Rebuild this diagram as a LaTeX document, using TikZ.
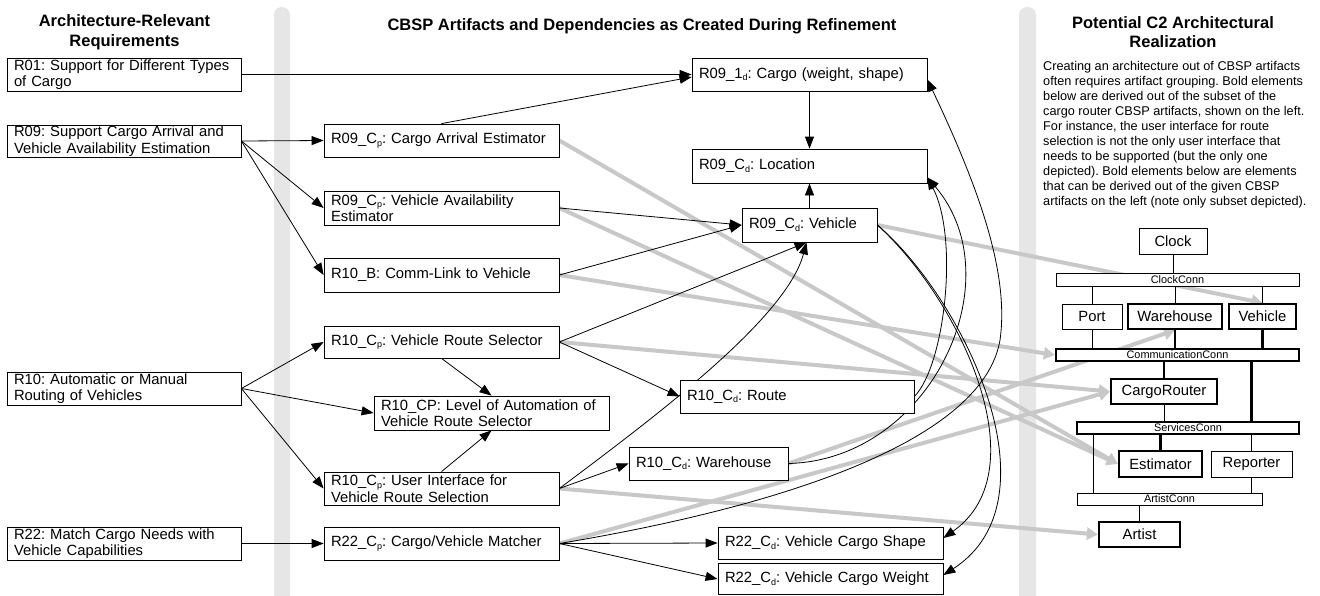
\documentclass[tikz,border=0pt]{standalone}
\usepackage{fontspec}
\setmainfont{Liberation Sans}
\usetikzlibrary{arrows.meta,calc}
\pgfdeclarelayer{bars}\pgfdeclarelayer{ctwo}\pgfdeclarelayer{grayl}\pgfdeclarelayer{blackl}
\pgfsetlayers{bars,grayl,ctwo,blackl,main}
\definecolor{barc}{HTML}{E6E6E6}
\definecolor{grayc}{HTML}{C8C8C8}
\newcommand\bfnt{\fontsize{14.8}{16.5}\selectfont}
\newcommand\sbx[1]{\raisebox{-2.5pt}{\fontsize{9}{9}\selectfont #1}}
\frenchspacing
\begin{document}
\begin{tikzpicture}[x=1pt,y=-1pt,
  bx/.style 2 args={draw, fill=white, line width=.8pt, inner xsep=7pt, inner ysep=0pt, align=left, font=\bfnt, text width=#1, minimum height=#2},
  cn/.style={draw, fill=white, line width=.8pt, inner sep=0pt, font=\bfnt},
  cnb/.style={cn, line width=2.2pt},
  cc/.style={draw, fill=white, line width=.8pt, inner sep=0pt, font=\fontsize{10.9}{11}\selectfont},
  ccb/.style={cc, line width=2.2pt},
  thinl/.style={line width=.8pt},
  thickl/.style={line width=2.2pt},
  ttl/.style={font=\fontsize{16.5}{20}\selectfont\bfseries, inner sep=0pt},
  bl/.style={draw, line width=.8pt, -{Triangle[length=12pt,width=9pt]}},
  gr/.style={draw=grayc, line width=4pt, -{Triangle[length=11pt,width=12pt]}, color=grayc}]
\useasboundingbox (0,0) rectangle (1320,595);
\begin{pgfonlayer}{bars}
\fill[white] (0,0) rectangle (1320,595);
\fill[barc, rounded corners=8pt] (274,7) rectangle (290,650);
\fill[barc, rounded corners=8pt] (1019,7) rectangle (1036,650);
\end{pgfonlayer}

% titles
\node[ttl, anchor=base] (t1a) at (124.5,26) {Architecture-Relevant};
\node[ttl, anchor=base] (t1b) at (124.5,46) {Requirements};
\node[ttl, anchor=base] (t2) at (642,30) {CBSP Artifacts and Dependencies as Created During Refinement};
\node[ttl, anchor=base] (t3a) at (1173,28) {Potential C2 Architectural};
\node[ttl, anchor=base] (t3b) at (1173,47) {Realization};
\node[anchor=north west, inner sep=0pt, align=left, font=\fontsize{12.7}{14.9}\selectfont] (para) at (1043,61.5)
{Creating an architecture out of CBSP artifacts\\often requires artifact grouping. Bold elements\\below are derived out of the subset of the\\cargo router CBSP artifacts, shown on the left.\\For instance, the user interface for route\\selection is not the only user interface that\\needs to be supported (but the only one\\depicted). Bold elements below are elements\\that can be derived out of the given CBSP\\artifacts on the left (note only subset depicted).};

% CBSP boxes
\node[bx={220pt}{33pt}] (r01) at (124,74.5) {R01: Support for Different Types\\of Cargo};
\node[bx={220pt}{32pt}] (r09) at (124,141) {R09: Support Cargo Arrival and\\Vehicle Availability Estimation};
\node[bx={220pt}{33pt}] (r10) at (124,388.5) {R10: Automatic or Manual\\Routing of Vehicles};
\node[bx={220pt}{33pt}] (r22) at (124,543.5) {R22: Match Cargo Needs with\\Vehicle Capabilities};
\node[bx={221pt}{33pt}] (cae) at (441.5,140.5) {R09\_C\sbx{p}: Cargo Arrival Estimator};
\node[bx={221pt}{34pt}] (vae) at (441.5,208) {R09\_C\sbx{p}: Vehicle Availability\\Estimator};
\node[bx={221pt}{34pt}] (rb) at (441.5,275) {R10\_B: Comm-Link to Vehicle};
\node[bx={221pt}{32pt}] (rs) at (441.5,342) {R10\_C\sbx{p}: Vehicle Route Selector};
\node[bx={221pt}{34pt}] (cp) at (491.5,413) {R10\_CP: Level of Automation of\\Vehicle Route Selector};
\node[bx={221pt}{33pt}] (ui) at (441.5,488.5) {R10\_C\sbx{p}: User Interface for\\Vehicle Route Selection};
\node[bx={221pt}{33pt}] (mt) at (441.5,543.5) {R22\_C\sbx{p}: Cargo/Vehicle Matcher};
\node[bx={221pt}{33pt}] (cg) at (809.5,74.5) {R09\_1\sbx{d}: Cargo (weight, shape)};
\node[bx={221pt}{34pt}] (loc) at (809.5,166) {R09\_C\sbx{d}: Location};
\node[bx={121pt}{34pt}] (veh) at (809.5,225) {R09\_C\sbx{d}: Vehicle};
\node[bx={220pt}{33pt}] (rt) at (797,396.5) {R10\_C\sbx{d}: Route};
\node[bx={145pt}{33pt}] (wh) at (708.5,463.5) {R10\_C\sbx{d}: Warehouse};
\node[bx={211pt}{32pt}] (sh) at (830.5,543) {R22\_C\sbx{d}: Vehicle Cargo Shape};
\node[bx={211pt}{31pt}] (wt) at (830.5,579) {R22\_C\sbx{d}: Vehicle Cargo Weight};

% C2 architecture
\begin{pgfonlayer}{ctwo}
\node[cn, minimum width=68pt, minimum height=26pt] (clock) at (1173,241) {Clock};
\node[cc, minimum width=243pt, minimum height=13pt] (clockconn) at (1177.5,279.5) {ClockConn};
\node[cn, minimum width=60pt, minimum height=25pt] (port) at (1092,316.5) {Port};
\node[cnb, minimum width=94pt, minimum height=25pt] (cwh) at (1175,316.5) {Warehouse};
\node[cnb, minimum width=67pt, minimum height=25pt] (cveh) at (1262.5,316.5) {Vehicle};
\node[ccb, minimum width=243pt, minimum height=12pt] (commconn) at (1177.5,355) {CommunicationConn};
\node[cnb, minimum width=106pt, minimum height=25pt] (crouter) at (1164,391.5) {CargoRouter};
\node[ccb, minimum width=222pt, minimum height=12pt] (servconn) at (1188,428) {ServicesConn};
\node[cnb, minimum width=83pt, minimum height=26pt] (est) at (1160.5,464) {Estimator};
\node[cn, minimum width=81pt, minimum height=26pt] (rep) at (1251.5,464) {Reporter};
\node[cc, minimum width=185pt, minimum height=12pt] (artconn) at (1169.5,499) {ArtistConn};
\node[cnb, minimum width=81pt, minimum height=25pt] (artist) at (1139.5,534.5) {Artist};
\draw[thinl] (clock.south) -- (clock.south |- clockconn.north);
\draw[thinl] (port.north) -- (port.north |- clockconn.south);
\draw[thinl] (cwh.north) -- (cwh.north |- clockconn.south);
\draw[thinl] (cveh.north) -- (cveh.north |- clockconn.south);
\draw[thinl] (port.south) -- (port.south |- commconn.north);
\draw[thickl] (cwh.south) -- (cwh.south |- commconn.north);
\draw[thickl] (cveh.south) -- (cveh.south |- commconn.north);
\draw[thickl] (crouter.north |- commconn.south) -- (crouter.north);
\draw[thickl] (rep.north |- commconn.south) -- (rep.north |- servconn.north);
\draw[thinl] (crouter.south) -- (crouter.south |- servconn.north);
\draw[thickl] (est.north |- servconn.south) -- (est.north);
\draw[thinl] (rep.north |- servconn.south) -- (rep.north);
\coordinate (sa) at ($(servconn.south west)+(17,0)$);
\draw[thinl] (sa) -- (sa |- artconn.north);
\draw[thinl] (rep.south) -- (rep.south |- artconn.north);
\draw[thinl] (artist.north |- artconn.south) -- (artist.north);
\end{pgfonlayer}

% gray realization links
\begin{pgfonlayer}{grayl}
\draw[gr] (veh.east) -- (cveh.north);
\draw[gr] (rb.east) -- (commconn.west);
\draw[gr] (rs.east) -- (crouter.west);
\draw[gr] (mt.east) -- (crouter.west);
\draw[gr] (cae.east) -- (est.west);
\draw[gr] (vae.east) -- (est.west);
\draw[gr] (wh.east) -- (cwh.south);
\draw[gr] (ui.east) -- (artist.west);
\end{pgfonlayer}

% black dependencies
\begin{pgfonlayer}{blackl}
\draw[bl] (r01.east) -- (cg.west);
\draw[bl] (r09.east) -- (cae.west);
\draw[bl] (r09.east) -- (vae.west);
\draw[bl] (r09.east) -- (rb.west);
\draw[bl] (r10.east) -- (rs.west);
\draw[bl] (r10.east) -- (cp.west);
\draw[bl] (r10.east) -- (ui.west);
\draw[bl] (r22.east) -- (mt.west);
\draw[bl] (cae.north) -- ($(cg.west)+(0,2.5)$);
\draw[bl] (cg.south) -- (loc.north);
\draw[bl] (veh.north) -- (loc.south);
\draw[bl] (vae.east) -- (veh.west);
\draw[bl] (rb.east) -- (veh.west);
\draw[bl] (rs.east) -- ($(veh.south)+(-3,0)$);
\draw[bl] (rs.east) -- (rt.west);
\draw[bl] (rs.south) -- (cp.north);
\draw[bl] (ui.north) -- (cp.south);
\draw[bl] (ui.east) -- (wh.west);
\draw[bl] (ui.east) .. controls (649,421) and (786,320) .. ($(veh.south)+(-3,0)$);
\draw[bl] (mt.east) -- (sh.west);
\draw[bl] (mt.east) -- (wt.west);
\draw[bl] (rt.east) .. controls (945,365) and (959,238) .. ($(loc.south east)+(0,-6)$);
\draw[bl] (wh.east) .. controls (930,460) and (1015,280) .. ($(loc.south east)+(0,-6)$);
\draw[bl] (mt.east) .. controls (820,500) and (985,430) .. (1000,340) .. controls (1010,270) and (975,180) .. ($(cg.east)+(0,5)$);
\draw[bl] (veh.east) .. controls (960,300) and (1040,470) .. ($(sh.east)+(0,-5)$);
\draw[bl] (veh.east) .. controls (965,300) and (1060,500) .. ($(wt.east)+(0,-4)$);
\end{pgfonlayer}
\end{tikzpicture}
\end{document}
